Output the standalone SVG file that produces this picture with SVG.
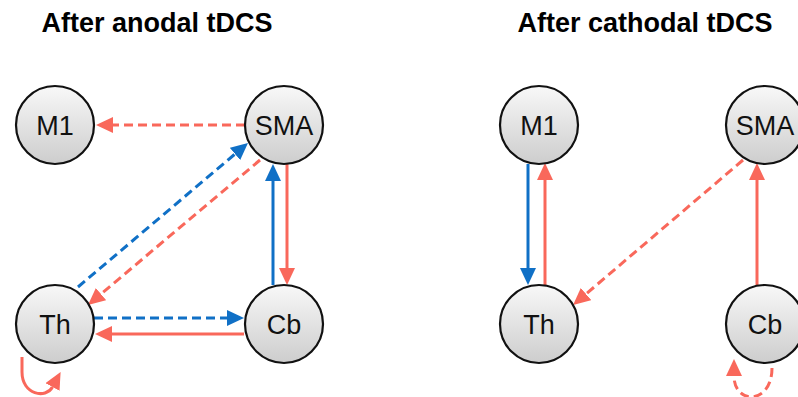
<svg xmlns="http://www.w3.org/2000/svg" width="798" height="397" viewBox="0 0 798 397">
  <defs>
    <linearGradient id="nodeFill" x1="0" y1="0" x2="0" y2="1">
      <stop offset="0" stop-color="#f8f8f8"/>
      <stop offset="1" stop-color="#cdcdcd"/>
    </linearGradient>
    <marker id="headRed" markerUnits="userSpaceOnUse" markerWidth="18" markerHeight="17" refX="0" refY="8" orient="auto">
      <path d="M0,0 L17,8 L0,16 z" fill="#f9685b"/>
    </marker>
    <marker id="headBlue" markerUnits="userSpaceOnUse" markerWidth="18" markerHeight="17" refX="0" refY="8" orient="auto">
      <path d="M0,0 L17,8 L0,16 z" fill="#1070c6"/>
    </marker>
    <style>
      .title { font-family: "Liberation Sans", Arial, sans-serif; font-weight: bold; font-size: 27px; fill: #000; text-anchor: middle; }
      .node circle { fill: url(#nodeFill); stroke: #111; stroke-width: 2.2; }
      .node text { font-family: "Liberation Sans", Arial, sans-serif; font-size: 27px; fill: #111; text-anchor: middle; }
      .edge { fill: none; stroke-width: 3; }
      .red { stroke: #f9685b; marker-end: url(#headRed); }
      .blue { stroke: #1070c6; marker-end: url(#headBlue); }
      .dash { stroke-dasharray: 9 5; }
    </style>
  </defs>

  <rect width="798" height="397" fill="#fff"/>

  <text class="title" x="157" y="32">After anodal tDCS</text>
  <text class="title" x="645" y="32">After cathodal tDCS</text>

  <g id="connectors">
    <!-- anodal panel -->
    <path class="edge red dash" d="M245,125 H113"/>
    <path class="edge blue dash" d="M78,287 L235,154"/>
    <path class="edge red dash" d="M260,160 L101,294"/>
    <path class="edge blue" d="M273,285 V181"/>
    <path class="edge red" d="M287,163 V268"/>
    <path class="edge blue dash" d="M94,318 H227"/>
    <path class="edge red" d="M244,334 H112"/>
    <path class="edge red" d="M22,357 V372 C22,395 46,399 52.5,387"/>
    <!-- cathodal panel -->
    <path class="edge blue" d="M528,164 V268"/>
    <path class="edge red" d="M545,286 V180"/>
    <path class="edge red dash" d="M743,160 L586,294"/>
    <path class="edge red" d="M757,286 V180"/>
    <path class="edge red dash" d="M772,368 C772,405 734,405 734,376"/>
  </g>

  <g id="a-M1" class="node"><circle cx="55" cy="125" r="39"/><text x="55" y="134.5">M1</text></g>
  <g id="a-SMA" class="node"><circle cx="284" cy="125" r="39"/><text x="284" y="134.5">SMA</text></g>
  <g id="a-Th" class="node"><circle cx="55" cy="324" r="39"/><text x="55" y="333.5">Th</text></g>
  <g id="a-Cb" class="node"><circle cx="284" cy="324" r="39"/><text x="284" y="333.5">Cb</text></g>

  <g id="c-M1" class="node"><circle cx="539" cy="125" r="39"/><text x="539" y="134.5">M1</text></g>
  <g id="c-SMA" class="node"><circle cx="765" cy="125" r="39"/><text x="765" y="134.5">SMA</text></g>
  <g id="c-Th" class="node"><circle cx="539" cy="324" r="39"/><text x="539" y="333.5">Th</text></g>
  <g id="c-Cb" class="node"><circle cx="765" cy="324" r="39"/><text x="765" y="333.5">Cb</text></g>
</svg>
